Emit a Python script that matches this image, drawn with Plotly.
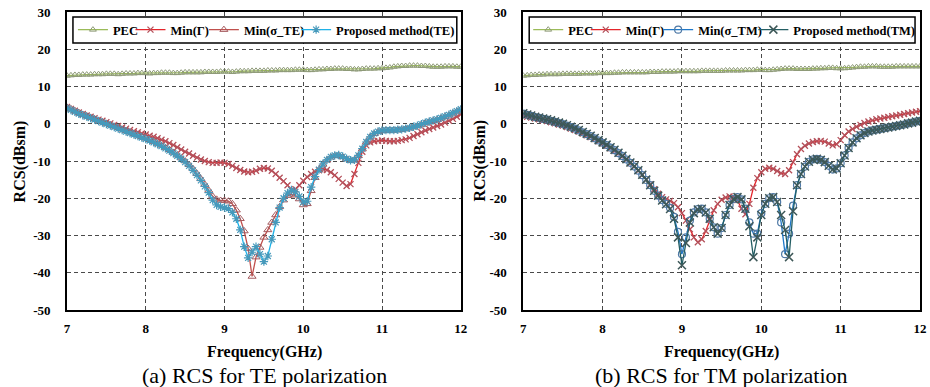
import plotly.graph_objects as go

# Frequency grid (GHz): 7.00 .. 12.00 step 0.05
freq = [round(7 + 0.05 * i, 2) for i in range(101)]

# ---------------- TE polarization ----------------
pec_te = [
    12.9, 13.0, 13.1, 13.1, 13.2, 13.2, 13.2, 13.3, 13.3, 13.3,
    13.4, 13.4, 13.4, 13.3, 13.4, 13.5, 13.5, 13.5, 13.6, 13.6,
    13.6, 13.5, 13.6, 13.6, 13.7, 13.7, 13.7, 13.6, 13.6, 13.7,
    13.8, 13.8, 13.8, 13.8, 13.8, 13.9, 13.9, 13.9, 13.9, 14.0,
    14.0, 14.0, 13.9, 14.0, 14.1, 14.1, 14.1, 14.2, 14.2, 14.2,
    14.2, 14.3, 14.3, 14.3, 14.4, 14.4, 14.4, 14.4, 14.5, 14.5,
    14.5, 14.4, 14.4, 14.5, 14.6, 14.6, 14.7, 14.7, 14.8, 14.8,
    14.8, 14.7, 14.7, 14.6, 14.6, 14.7, 14.8, 14.8, 14.8, 14.9,
    14.9, 15.0, 15.1, 15.3, 15.4, 15.5, 15.5, 15.6, 15.6, 15.6,
    15.5, 15.5, 15.4, 15.3, 15.3, 15.3, 15.4, 15.4, 15.4, 15.3,
    15.3]

min_gamma_te = [
    4.5, 4.0, 3.5, 3.0, 2.6, 2.2, 1.9, 1.5, 1.1, 0.8,
    0.4, 0.1, -0.3, -0.6, -1.0, -1.3, -1.7, -2.0, -2.3, -2.6,
    -2.9, -3.2, -3.5, -3.9, -4.3, -4.7, -5.2, -5.7, -6.3, -6.9,
    -7.5, -8.0, -8.6, -9.1, -9.6, -10.0, -10.3, -10.5, -10.5, -10.4,
    -10.5, -10.8, -11.3, -11.9, -12.4, -12.8, -13.0, -12.9, -12.6, -12.1,
    -11.9, -12.0, -12.6, -13.5, -14.5, -15.4, -16.5, -17.8, -17.6, -16.5,
    -15.3, -14.3, -13.5, -12.9, -12.5, -12.2, -12.4, -13.0, -13.8, -14.8,
    -15.8, -16.7, -16.2, -13.5, -10.5, -7.5, -5.8, -5.0, -4.7, -4.6,
    -4.5, -4.6, -4.7, -4.7, -4.6, -4.4, -4.2, -3.8, -3.3, -2.8,
    -2.3, -1.8, -1.4, -1.0, -0.6, -0.2, 0.3, 0.8, 1.3, 1.9,
    2.5]

min_sigma_te = [
    4.4, 4.0, 3.5, 3.0, 2.5, 2.1, 1.7, 1.3, 0.9, 0.5,
    0.1, -0.3, -0.7, -1.1, -1.5, -1.9, -2.3, -2.7, -3.1, -3.5,
    -3.9, -4.3, -4.8, -5.3, -5.8, -6.4, -7.0, -7.7, -8.4, -9.2,
    -10.0, -11.0, -12.1, -13.4, -14.8, -16.3, -17.9, -19.5, -20.3, -20.6,
    -20.6, -20.8, -21.5, -23.2, -25.5, -28.8, -33.5, -41.0, -35.8, -33.2,
    -30.5, -28.5, -26.5, -24.5, -22.3, -20.5, -19.3, -18.9, -19.2, -20.2,
    -21.8, -21.5, -18.0, -14.5, -12.4, -10.9, -9.8, -9.0, -8.6, -8.5,
    -8.9, -9.5, -9.9, -9.8, -8.6, -6.8, -5.0, -3.6, -2.7, -2.2,
    -1.9, -1.8, -1.8, -1.8, -1.7, -1.6, -1.4, -1.2, -0.9, -0.6,
    -0.2, 0.2, 0.5, 0.8, 1.1, 1.5, 1.9, 2.3, 2.8, 3.3,
    3.8]

proposed_te = [
    4.2, 3.7, 3.2, 2.7, 2.3, 1.9, 1.5, 1.1, 0.7, 0.3,
    -0.1, -0.5, -0.9, -1.3, -1.7, -2.1, -2.5, -2.9, -3.3, -3.7,
    -4.1, -4.5, -5.0, -5.5, -6.0, -6.6, -7.2, -7.9, -8.6, -9.4,
    -10.3, -11.3, -12.5, -13.8, -15.2, -16.8, -18.5, -20.5, -21.8, -22.3,
    -22.5, -22.8, -23.8, -25.5, -28.5, -33.0, -36.0, -34.5, -33.0, -35.0,
    -37.0, -35.5, -31.0, -26.5, -22.5, -20.0, -18.6, -17.8, -18.3, -19.5,
    -21.0, -20.8, -17.0, -14.2, -12.3, -10.8, -9.7, -8.9, -8.5, -8.4,
    -8.8, -9.4, -9.8, -9.7, -8.5, -6.7, -4.9, -3.5, -2.6, -2.1,
    -1.8, -1.7, -1.7, -1.7, -1.6, -1.5, -1.3, -1.1, -0.8, -0.5,
    -0.1, 0.3, 0.6, 0.9, 1.2, 1.6, 2.0, 2.4, 2.9, 3.4,
    3.9]

# ---------------- TM polarization ----------------
pec_tm = [
    12.9, 13.0, 13.1, 13.1, 13.2, 13.2, 13.3, 13.3, 13.3, 13.3,
    13.4, 13.4, 13.4, 13.4, 13.4, 13.5, 13.5, 13.5, 13.5, 13.6,
    13.6, 13.6, 13.6, 13.7, 13.7, 13.8, 13.8, 13.8, 13.8, 13.8,
    13.8, 13.8, 13.9, 13.9, 13.9, 14.0, 14.0, 14.0, 14.0, 14.1,
    14.1, 14.1, 14.1, 14.1, 14.1, 14.2, 14.2, 14.2, 14.2, 14.2,
    14.2, 14.3, 14.3, 14.3, 14.3, 14.3, 14.4, 14.4, 14.4, 14.5,
    14.5, 14.4, 14.4, 14.5, 14.6, 14.7, 14.8, 14.8, 14.8, 14.7,
    14.7, 14.7, 14.7, 14.8, 14.8, 14.9, 14.9, 15.0, 15.0, 14.9,
    14.9, 14.9, 15.0, 15.1, 15.2, 15.3, 15.3, 15.4, 15.4, 15.4,
    15.3, 15.3, 15.3, 15.3, 15.4, 15.4, 15.4, 15.4, 15.4, 15.4,
    15.4]

min_gamma_tm = [
    2.2, 1.9, 1.7, 1.4, 1.2, 0.9, 0.7, 0.4, 0.1, -0.2,
    -0.5, -0.9, -1.3, -1.7, -2.1, -2.6, -3.1, -3.6, -4.1, -4.7,
    -5.3, -5.9, -6.6, -7.3, -8.0, -8.8, -9.7, -10.6, -11.5, -12.6,
    -13.8, -15.0, -16.3, -17.6, -18.8, -19.7, -20.3, -20.7, -21.3, -22.4,
    -24.0, -26.0, -28.3, -30.5, -31.8, -31.0, -28.8, -25.8, -23.2, -21.5,
    -20.4, -19.8, -19.5, -19.6, -20.5, -22.8, -24.3, -21.5, -17.2, -14.6,
    -13.0, -12.1, -11.8, -12.1, -12.7, -13.3, -13.5, -12.5, -10.3, -8.2,
    -6.8, -5.9, -5.3, -4.9, -4.7, -4.6, -4.8, -5.3, -5.8, -5.5,
    -4.4, -3.1, -2.1, -1.4, -0.8, -0.3, 0.2, 0.6, 0.9, 1.2,
    1.4, 1.6, 1.8, 2.0, 2.2, 2.4, 2.6, 2.8, 3.0, 3.2,
    3.4]

min_sigma_tm = [
    2.7, 2.4, 2.1, 1.8, 1.6, 1.3, 1.1, 0.8, 0.5, 0.2,
    -0.1, -0.5, -0.9, -1.3, -1.8, -2.3, -2.8, -3.3, -3.9, -4.5,
    -5.1, -5.7, -6.4, -7.1, -7.9, -8.7, -9.6, -10.5, -11.5, -12.6,
    -13.8, -15.1, -16.5, -18.0, -19.3, -20.5, -21.5, -22.6, -25.0, -29.0,
    -35.0, -30.5, -26.0, -23.8, -22.9, -22.8, -23.8, -25.5, -27.8, -29.5,
    -28.0, -24.5, -21.8, -20.2, -19.7, -20.3, -22.8, -26.5, -29.5, -29.5,
    -24.0, -21.5, -20.0, -19.7, -21.0, -26.5, -35.0, -29.5, -22.0, -16.5,
    -13.5, -11.5, -10.2, -9.6, -9.4, -9.7, -10.3, -11.3, -12.3, -12.0,
    -10.6, -8.5, -6.5, -5.0, -3.9, -3.1, -2.5, -2.1, -1.8, -1.6,
    -1.4, -1.2, -1.0, -0.8, -0.6, -0.4, -0.2, 0.1, 0.3, 0.6,
    0.8]

proposed_tm = [
    2.8, 2.5, 2.2, 1.9, 1.7, 1.4, 1.2, 0.9, 0.6, 0.3,
    0.0, -0.4, -0.8, -1.2, -1.7, -2.2, -2.7, -3.2, -3.8, -4.4,
    -5.0, -5.6, -6.3, -7.0, -7.8, -8.6, -9.5, -10.4, -11.4, -12.5,
    -13.7, -15.0, -16.5, -18.0, -19.3, -20.6, -21.6, -22.9, -25.5, -30.5,
    -38.0, -32.0, -26.5, -24.0, -23.0, -22.8, -23.8, -25.5, -27.8, -29.5,
    -28.0, -24.5, -21.8, -20.2, -19.7, -20.3, -22.8, -27.5, -35.8, -30.5,
    -24.5, -21.5, -20.0, -19.7, -21.0, -24.5, -28.5, -35.8, -23.5, -16.5,
    -13.5, -11.5, -10.2, -9.6, -9.4, -9.7, -10.3, -11.3, -12.3, -12.0,
    -10.6, -8.5, -6.5, -5.0, -3.9, -3.1, -2.5, -2.1, -1.8, -1.6,
    -1.4, -1.2, -1.0, -0.8, -0.6, -0.4, -0.2, 0.1, 0.3, 0.6,
    0.8]

x_ticks = [7, 8, 9, 10, 11, 12]
x_ticktext = ["7", "8", "9", "10", "11", "12"]
y_ticks = [30, 20, 10, 0, -10, -20, -30, -40, -50]
y_ticktext = ["30", "20", "10", "0", "-10", "-20", "-30", "-40", "-50"]

SERIF = "Liberation Serif"
W, H = 930, 387
ML, MR, MT, MB = 67, 3, 12, 77
PW = W - ML - MR
PH = H - MT - MB


def px2x(px):
    return (px - ML) / PW


def py2y(py):
    return 1 - (py - MT) / PH


fig = go.Figure()


def add(y, name, line_color, sym, mcolor, msize, xa, ya, legend, mlw=1.0):
    fig.add_trace(go.Scatter(
        x=freq, y=y, name=name, mode="lines+markers",
        line=dict(color=line_color, width=1.3),
        marker=dict(symbol=sym, size=msize, color=mcolor,
                    line=dict(color=mcolor, width=mlw)),
        xaxis=xa, yaxis=ya, legend=legend,
    ))


# TE panel (each legend entry gets its own borderless legend for exact spacing)
add(pec_te, "PEC", "#9BBB59", "triangle-up-open", "#8E9A78", 6, "x", "y", "legend")
add(min_gamma_te, "Min(Γ)", "#E4252B", "x-thin-open", "#B4505A", 6, "x", "y", "legend2", 1.3)
add(min_sigma_te, "Min(σ_TE)", "#C0504D", "triangle-up-open", "#A45A5E", 7, "x", "y", "legend3")
add(proposed_te, "Proposed method(TE)", "#1FB2E8", "asterisk-open", "#4699BB", 7, "x", "y", "legend4", 1.2)

# TM panel
add(pec_tm, "PEC", "#9BBB59", "triangle-up-open", "#8E9A78", 6, "x2", "y2", "legend5")
add(min_gamma_tm, "Min(Γ)", "#E4252B", "x-thin-open", "#B4505A", 6, "x2", "y2", "legend6", 1.3)
add(min_sigma_tm, "Min(σ_TM)", "#1F78C8", "circle-open", "#4F79A6", 7, "x2", "y2", "legend7", 1.2)
add(proposed_tm, "Proposed method(TM)", "#245E63", "x-thin-open", "#3E5858", 8, "x2", "y2", "legend8", 1.5)

axis_common = dict(
    showgrid=True, gridcolor="#4a4a4a", gridwidth=1, griddash="4px,3px",
    showline=True, linecolor="black", linewidth=1.6, mirror=True,
    zeroline=False, ticks="",
    tickfont=dict(family=SERIF, size=13, color="black", weight="bold"),
)

legend_text_starts = [110, 168, 242, 335, 569, 627, 700, 796]
legends = {}
for i, tx in enumerate(legend_text_starts):
    key = "legend" if i == 0 else f"legend{i + 1}"
    legends[key] = dict(
        orientation="h", x=px2x(tx - 37), y=py2y(30), xanchor="left", yanchor="middle",
        bgcolor="rgba(0,0,0,0)", borderwidth=0,
        font=dict(family=SERIF, size=12.5, color="black", weight="bold"),
        itemwidth=30,
    )

fig.update_layout(
    width=W, height=H,
    margin=dict(l=ML, r=MR, t=MT, b=MB),
    paper_bgcolor="white", plot_bgcolor="white",
    xaxis=dict(domain=[0, px2x(464)], range=[7, 12],
               tickvals=x_ticks, ticktext=x_ticktext, ticklabelstandoff=6, **axis_common),
    xaxis2=dict(domain=[px2x(527), 1], range=[7, 12],
                tickvals=x_ticks, ticktext=x_ticktext, ticklabelstandoff=6, **axis_common),
    yaxis=dict(range=[-50, 30], tickvals=y_ticks, ticktext=y_ticktext,
               ticklabelstandoff=12, anchor="x", **axis_common),
    yaxis2=dict(range=[-50, 30], tickvals=y_ticks, ticktext=y_ticktext,
                ticklabelstandoff=12, anchor="x2", **axis_common),
    showlegend=True,
    **legends,
)

# legend frames
shapes = []
for x0, x1 in [(73, 460), (533, 922)]:
    shapes.append(dict(type="rect", xref="paper", yref="paper",
                       x0=px2x(x0), x1=px2x(x1), y0=py2y(43), y1=py2y(17),
                       line=dict(color="black", width=1.5), fillcolor="white", layer="above"))

ann = []
for cx, cap in [(266, "(a) RCS for TE polarization"), (727, "(b) RCS for TM polarization")]:
    ann.append(dict(x=px2x(cx), y=py2y(352), xref="paper", yref="paper",
                    xanchor="center", yanchor="middle", showarrow=False,
                    text="<b>Frequency(GHz)</b>",
                    font=dict(family=SERIF, size=16, color="black")))
    ann.append(dict(x=px2x(cx), y=py2y(375), xref="paper", yref="paper",
                    xanchor="center", yanchor="middle", showarrow=False,
                    text=cap, font=dict(family=SERIF, size=22, color="black")))
for tx in [20, 483]:
    ann.append(dict(x=px2x(tx), y=py2y(161), xref="paper", yref="paper",
                    xanchor="center", yanchor="middle", showarrow=False, textangle=-90,
                    text="<b>RCS(dBsm)</b>",
                    font=dict(family=SERIF, size=16, color="black")))

fig.update_layout(annotations=ann, shapes=shapes)

fig.write_html("out.html", config={"displayModeBar": False},
               post_script="document.body.style.margin='0';")
